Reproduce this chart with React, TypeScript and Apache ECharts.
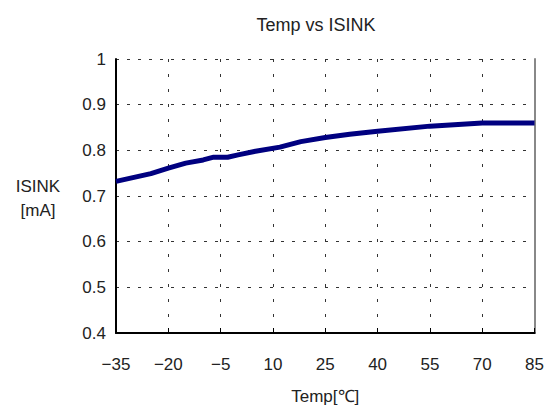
import React, { useEffect, useRef } from "react";
import * as echarts from "echarts";

const temps = [-35, -25, -20, -15, -10, -7, -3, 0, 5, 12, 18, 25, 32, 40, 55, 70, 85];
const isink = [0.732, 0.749, 0.761, 0.772, 0.779, 0.785, 0.785, 0.790, 0.798, 0.807, 0.819, 0.828, 0.835, 0.842, 0.853, 0.860, 0.860];
const xMin = -35;
const xMax = 85;
const xStep = 15;
const yMin = 0.4;
const yMax = 1;
const yStep = 0.1;

const FONT = "'Liberation Sans', Arial, sans-serif";

export default function App() {
  const ref = useRef<HTMLDivElement>(null);
  useEffect(() => {
    if (!ref.current) return;
    const chart = echarts.init(ref.current, undefined, { renderer: "svg" });
    const data = temps.map((t, i) => [t - xMin, isink[i]]);
    chart.setOption({
      animation: false,
      backgroundColor: "#ffffff",
      title: {
        text: "Temp vs ISINK",
        left: 311,
        top: 11,
        textAlign: "center",
        textStyle: { fontFamily: FONT, fontSize: 18, fontWeight: "normal", color: "#222" },
      },
      graphic: [
        {
          type: "text",
          x: 38,
          y: 174,
          style: {
            text: "ISINK\n[mA]",
            fontFamily: FONT,
            fontSize: 17,
            lineHeight: 24,
            fill: "#222",
            align: "center",
            verticalAlign: "top",
          },
        },
      ],
      grid: { left: 116, right: 11, top: 59, bottom: 80 },
      xAxis: {
        type: "value",
        min: 0,
        max: xMax - xMin,
        interval: xStep,
        name: "Temp[℃]",
        nameLocation: "middle",
        nameGap: 55,
        nameTextStyle: { fontFamily: FONT, fontSize: 17, color: "#222" },
        axisLine: { show: true, onZero: false, lineStyle: { color: "#000", width: 2 } },
        axisTick: { show: true, inside: true, length: 5, lineStyle: { color: "#000" } },
        axisLabel: {
          margin: 23,
          fontFamily: FONT,
          fontSize: 17,
          color: "#222",
          formatter: (v: number) => {
            const t = Math.round(v + xMin);
            return t < 0 ? "\u2212" + Math.abs(t) : String(t);
          },
        },
        splitLine: { show: true, lineStyle: { color: "#333", width: 1, type: [3, 12] } },
      },
      yAxis: [
        {
          type: "value",
          min: yMin,
          max: yMax,
          interval: yStep,
          axisLine: { show: true, lineStyle: { color: "#000", width: 2 } },
          axisTick: { show: false },
          axisLabel: {
            margin: 10,
            fontFamily: FONT,
            fontSize: 17,
            color: "#222",
            formatter: (v: number) => (Math.abs(v - 1) < 1e-9 ? "1" : v.toFixed(1)),
          },
          splitLine: { show: true, lineStyle: { color: "#333", width: 1, type: [3, 8] } },
        },
        {
          type: "value",
          position: "right",
          min: yMin,
          max: yMax,
          interval: yStep,
          axisLine: { show: true, lineStyle: { color: "#888", width: 2 } },
          axisTick: { show: false },
          axisLabel: { show: false },
          splitLine: { show: false },
        },
      ],
      series: [
        {
          type: "line",
          data,
          symbol: "none",
          smooth: false,
          lineStyle: { color: "#000080", width: 5 },
        },
      ],
    });
    return () => chart.dispose();
  }, []);
  return (
    <div
      ref={ref}
      style={{ position: "fixed", left: 0, top: 0, width: 547, height: 413 }}
    />
  );
}
